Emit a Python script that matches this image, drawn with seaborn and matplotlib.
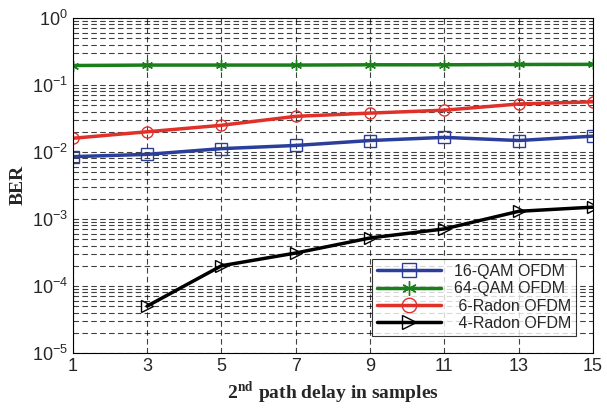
import matplotlib
matplotlib.use("Agg")
import matplotlib.pyplot as plt
import seaborn as sns
import numpy as np
import pandas as pd
from matplotlib.ticker import LogLocator, NullFormatter

delays = [1, 3, 5, 7, 9, 11, 13, 15]
qam16 = [0.0085, 0.0092, 0.0112, 0.0125, 0.0148, 0.0165, 0.0148, 0.0172]
qam64 = [0.195, 0.198, 0.198, 0.198, 0.200, 0.200, 0.202, 0.203]
radon6 = [0.016, 0.020, 0.025, 0.034, 0.038, 0.042, 0.052, 0.056]
delays4 = [3, 5, 7, 9, 11, 13, 15]
radon4 = [5.0e-5, 2.0e-4, 3.1e-4, 5.2e-4, 7.1e-4, 1.3e-3, 1.5e-3]

labels = ["16-QAM OFDM", "64-QAM OFDM", " 6-Radon OFDM", " 4-Radon OFDM"]
colors = ["#2b3f9a", "#1a7f1a", "#e0302a", "#000000"]
markers = ["s", (6, 2, 0), "o", ">"]

sns.set_style("white")
plt.rcParams['font.family'] = ['Liberation Sans', 'DejaVu Sans']
plt.rcParams['mathtext.fontset'] = 'stix'

fig = plt.figure(figsize=(6.07, 4.08), dpi=100)
ax = fig.add_axes([0.120, 0.135, 0.857, 0.821])

series = [(delays, qam16), (delays, qam64), (delays, radon6), (delays4, radon4)]
for (xs, ys), lab, c, m in zip(series, labels, colors, markers):
    df = pd.DataFrame({"x": xs, "y": ys})
    sns.lineplot(data=df, x="x", y="y", ax=ax, color=c, lw=2.5, marker=m,
                 markersize=8, markerfacecolor="none", markeredgecolor=c,
                 markeredgewidth=1.0, label=lab)

ax.set_yscale("log")
ax.set_ylim(1e-5, 1)
ax.set_xlim(1, 15)
ax.set_xticks(delays)
ax.set_xticklabels([str(d) for d in delays])
ax.yaxis.set_major_locator(LogLocator(base=10, numticks=10))
ax.yaxis.set_minor_locator(LogLocator(base=10, subs=np.arange(2, 10), numticks=100))
ax.yaxis.set_minor_formatter(NullFormatter())
ax.grid(True, which="major", axis="both", color="black", ls=(0, (5, 3)), lw=0.8, alpha=0.75)
ax.grid(True, which="minor", axis="y", color="black", ls=(0, (5, 3)), lw=0.8, alpha=0.75)
ax.tick_params(axis="both", which="both", direction="in", labelsize=13, length=4)
ax.tick_params(axis="y", which="minor", length=2)
for s in ax.spines.values():
    s.set_color("black")
    s.set_linewidth(0.8)

ax.set_xlabel(r"2$^{\mathbf{nd}}$ path delay in samples", fontsize=14, fontweight="bold",
              family="Liberation Serif")
ax.set_ylabel("BER", fontsize=14, fontweight="bold", family="Liberation Serif", labelpad=4)

leg = ax.legend(loc="lower right", bbox_to_anchor=(0.967, 0.051), borderaxespad=0,
                fontsize=11.5, frameon=True,
                fancybox=False, edgecolor="black", handlelength=4.0, borderpad=0.3,
                labelspacing=0.15, markerscale=1.3, handletextpad=0.8)
leg.get_frame().set_linewidth(0.8)

fig.savefig("out.png", dpi=100)
